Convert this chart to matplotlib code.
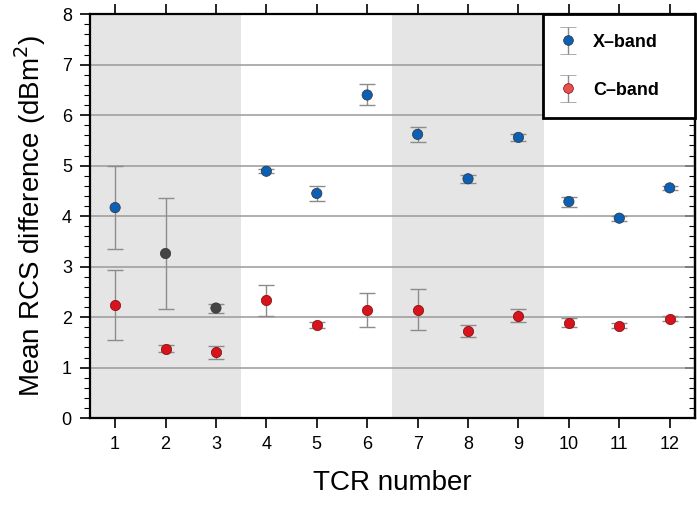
import matplotlib
matplotlib.use("Agg")
import numpy as np
import matplotlib.pyplot as plt
from matplotlib.ticker import MultipleLocator
from matplotlib.legend_handler import HandlerErrorbar

plt.rcParams["font.family"] = ["Liberation Sans", "DejaVu Sans"]

# DATA
tcr = [1, 2, 3, 4, 5, 6, 7, 8, 9, 10, 11, 12]
x_mean = [4.17, 3.26, 2.18, 4.89, 4.45, 6.40, 5.62, 4.74, 5.56, 4.29, 3.96, 4.56]
x_lo = [3.34, 2.17, 2.09, 4.85, 4.30, 6.20, 5.47, 4.66, 5.48, 4.18, 3.90, 4.52]
x_hi = [5.00, 4.35, 2.25, 4.93, 4.59, 6.61, 5.76, 4.81, 5.62, 4.38, 4.01, 4.60]
c_mean = [2.24, 1.37, 1.31, 2.34, 1.84, 2.14, 2.14, 1.73, 2.03, 1.89, 1.83, 1.97]
c_lo = [1.54, 1.30, 1.18, 2.03, 1.78, 1.81, 1.74, 1.60, 1.91, 1.80, 1.78, 1.92]
c_hi = [2.94, 1.44, 1.43, 2.63, 1.90, 2.47, 2.55, 1.84, 2.16, 1.98, 1.88, 2.03]
dark_tcr = [2, 3]   # X-band points drawn in dark grey
shaded = [(0.5, 3.5), (6.5, 9.5)]

BLUE = "#0b5fb5"
RED = "#d7141e"
GREY = "#444444"
ERR = "#8c8c8c"

fig = plt.figure(figsize=(6.97, 5.08), dpi=100)
ax = fig.add_axes([0.129, 0.177, 0.868, 0.795])

for a, b in shaded:
    ax.axvspan(a, b, color="#e5e5e5", lw=0, zorder=0)

for y in range(1, 8):
    ax.axhline(y, color="#9a9a9a", lw=1.1, zorder=1)

# error bars
x_err = [[m - lo for m, lo in zip(x_mean, x_lo)], [hi - m for m, hi in zip(x_mean, x_hi)]]
c_err = [[m - lo for m, lo in zip(c_mean, c_lo)], [hi - m for m, hi in zip(c_mean, c_hi)]]
ax.errorbar(tcr, x_mean, yerr=x_err, fmt="none", ecolor=ERR, elinewidth=1,
            capsize=6, capthick=1, zorder=2)
ax.errorbar(tcr, c_mean, yerr=c_err, fmt="none", ecolor=ERR, elinewidth=1,
            capsize=6, capthick=1, zorder=2)

x_cols = [GREY if t in dark_tcr else BLUE for t in tcr]
ax.scatter(tcr, x_mean, s=55, c=x_cols, edgecolors="#333333", linewidths=0.5, zorder=3)
ax.scatter(tcr, c_mean, s=55, c=RED, edgecolors="#7a0a0a", linewidths=0.5, zorder=3)

# legend handles (nan data so nothing shows in the axes, but caps exist)
hx = ax.errorbar([np.nan], [np.nan], yerr=[1], fmt="o", color=BLUE, mec="#333333",
                 mew=0.5, ms=7, ecolor=ERR, elinewidth=1, capsize=6, capthick=1)
hc = ax.errorbar([np.nan], [np.nan], yerr=[1], fmt="o", color="#e85050", mec="#7a0a0a",
                 mew=0.5, ms=7, ecolor=ERR, elinewidth=1, capsize=6, capthick=1)
leg = ax.legend([hx, hc], ["X\u2013band", "C\u2013band"], loc="upper right",
                bbox_to_anchor=(0.749, 0.0, 0.251, 1.0), mode="expand",
                borderaxespad=0, fancybox=False,
                framealpha=1, edgecolor="black", prop={"weight": "bold", "size": 13},
                borderpad=1.08, labelspacing=1.72, handlelength=0.64, handletextpad=1.05,
                handler_map={type(hx): HandlerErrorbar(xerr_size=0.6, yerr_size=0.75)})
leg.get_frame().set_linewidth(2)

ax.set_xlim(0.5, 12.5)
ax.set_ylim(0, 8)
ax.set_xticks(tcr)
ax.yaxis.set_major_locator(MultipleLocator(1))
ax.yaxis.set_minor_locator(MultipleLocator(0.2))

ax.tick_params(axis="x", which="major", direction="out", length=7, width=1.2,
               top=True, labelsize=13, pad=6)
ax.tick_params(axis="y", which="major", direction="out", length=7, width=1.2,
               labelsize=13, pad=6)
ax.tick_params(axis="y", which="minor", direction="out", length=4, width=0.8)

# inward ticks on the right side
rax = ax.secondary_yaxis("right")
rax.yaxis.set_major_locator(MultipleLocator(1))
rax.yaxis.set_minor_locator(MultipleLocator(0.2))
rax.tick_params(which="major", direction="in", length=7, width=1.2, labelright=False)
rax.tick_params(which="minor", direction="in", length=4, width=0.8)

for s in ax.spines.values():
    s.set_linewidth(1.6)
rax.spines["right"].set_linewidth(1.6)

ax.set_xlabel("TCR number", fontsize=20, labelpad=12)
ax.set_ylabel("Mean RCS difference (dBm$^2$)", fontsize=20, labelpad=10)

fig.savefig("out.png", dpi=100)
